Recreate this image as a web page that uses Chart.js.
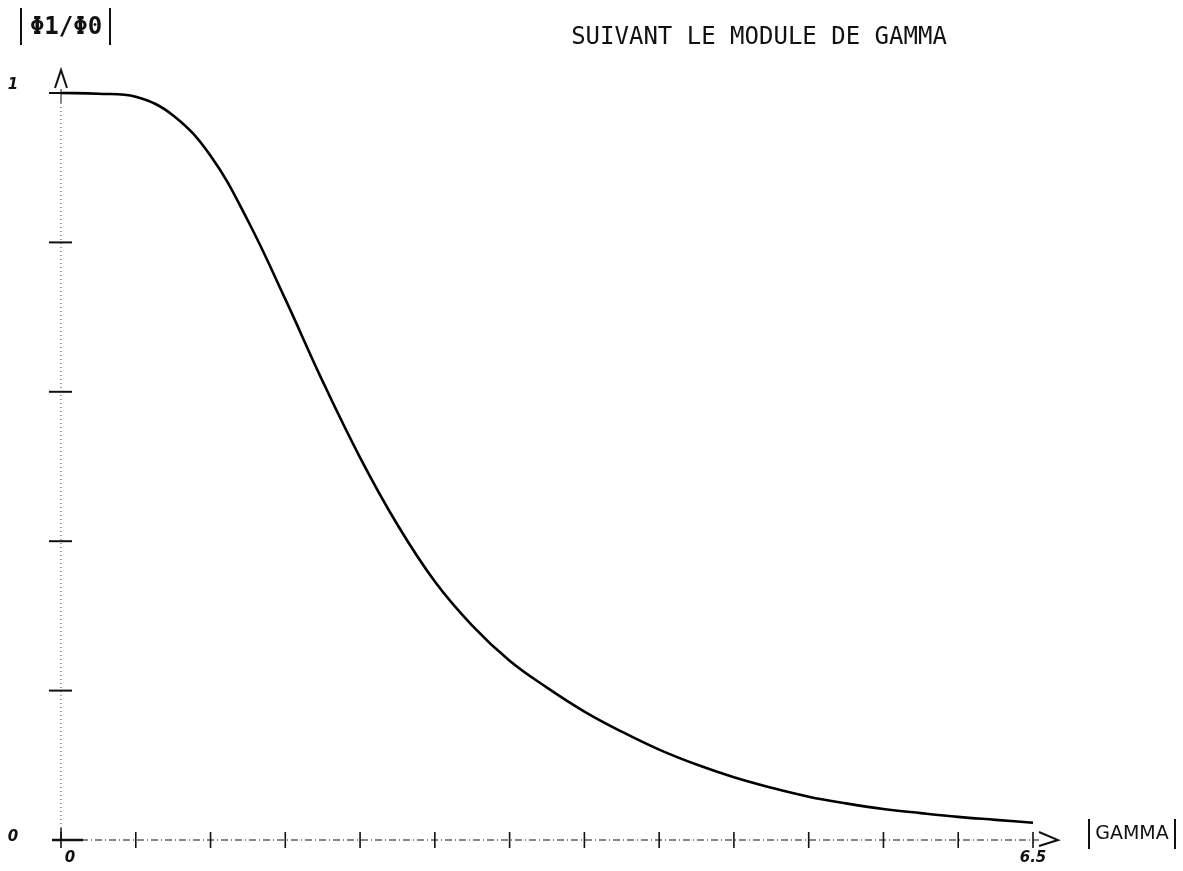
<!DOCTYPE html>
<html>
<head>
<meta charset="utf-8">
<script src="https://cdn.jsdelivr.net/npm/chart.js@4.4.1/dist/chart.umd.min.js"></script>
<style>
  html, body { margin: 0; padding: 0; background: #fff; }
  #wrap { width: 1183px; height: 871px; }
</style>
</head>
<body>
<div id="wrap"><canvas id="myChart"></canvas></div>
<script>
// |gamma| on x, |phi1/phi0| on y
var gamma = [0, 0.25, 0.5, 0.75, 1, 1.25, 1.5, 1.75, 2, 2.25, 2.5, 2.75, 3, 3.25, 3.5,
             3.75, 4, 4.25, 4.5, 4.75, 5, 5.25, 5.5, 5.75, 6, 6.25, 6.5];
var ratio = [1, 0.999, 0.995, 0.970, 0.916, 0.829, 0.724, 0.614, 0.512, 0.422, 0.346, 0.287,
             0.240, 0.204, 0.172, 0.145, 0.121, 0.101, 0.084, 0.070, 0.058, 0.049, 0.0415,
             0.036, 0.031, 0.027, 0.023];
var xTicks = [0, 0.5, 1, 1.5, 2, 2.5, 3, 3.5, 4, 4.5, 5, 5.5, 6, 6.5];
var yTicks = [0, 0.2, 0.4, 0.6, 0.8, 1];
var xTickLabels = ['0', '6.5'];
var xLabelAt = [0, 6.5];
var yTickLabels = ['0', '1'];
var yLabelAt = [0, 1];

var plotterAxes = {
  id: 'plotterAxes',
  beforeDatasetsDraw: function(chart) {
    var ctx = chart.ctx, xs = chart.scales.x, ys = chart.scales.y;
    var x0 = xs.getPixelForValue(0), x1 = xs.getPixelForValue(6.5);
    var y0 = ys.getPixelForValue(0), y1 = ys.getPixelForValue(1);
    ctx.save();
    ctx.strokeStyle = '#111';

    // y axis, dotted
    ctx.lineWidth = 1;
    ctx.setLineDash([]);
    ctx.beginPath(); ctx.moveTo(x0, y1 - 4); ctx.lineTo(x0, y1 + 10); ctx.stroke();
    ctx.strokeStyle = '#444';
    ctx.setLineDash([1, 3]);
    ctx.beginPath(); ctx.moveTo(x0, y1 + 10); ctx.lineTo(x0, y0 - 12); ctx.stroke();
    ctx.setLineDash([]);
    ctx.strokeStyle = '#111';
    ctx.lineWidth = 1.5;
    ctx.beginPath(); ctx.moveTo(x0, y0 - 12); ctx.lineTo(x0, y0); ctx.stroke();

    // x axis, dash-dot
    ctx.lineWidth = 1.2;
    ctx.setLineDash([7, 3, 1, 3]);
    ctx.beginPath(); ctx.moveTo(x0 + 20, y0); ctx.lineTo(x1 + 6, y0); ctx.stroke();
    ctx.setLineDash([]);
    ctx.lineWidth = 2.5;
    ctx.beginPath(); ctx.moveTo(x0 - 9, y0); ctx.lineTo(x0 + 22, y0); ctx.stroke();

    // x ticks (crosses)
    ctx.lineWidth = 1.6;
    xTicks.forEach(function(v) {
      var px = xs.getPixelForValue(v);
      ctx.beginPath(); ctx.moveTo(px, y0 - 8); ctx.lineTo(px, y0 + 8); ctx.stroke();
    });
    // y ticks
    ctx.lineWidth = 2;
    yTicks.forEach(function(v) {
      var py = ys.getPixelForValue(v);
      if (v === 0) return;
      ctx.beginPath(); ctx.moveTo(x0 - 12, py); ctx.lineTo(x0 + 11, py); ctx.stroke();
    });

    // arrows
    ctx.lineWidth = 2;
    ctx.beginPath();
    ctx.moveTo(x0 - 6, y1 - 5); ctx.lineTo(x0, y1 - 23); ctx.lineTo(x0 + 6, y1 - 5);
    ctx.stroke();
    ctx.beginPath();
    ctx.moveTo(x1 + 6, y0 - 8); ctx.lineTo(x1 + 25, y0); ctx.lineTo(x1 + 6, y0 + 6);
    ctx.stroke();

    // tick labels
    ctx.fillStyle = '#111';
    ctx.font = 'italic bold 15px "DejaVu Sans"';
    ctx.textAlign = 'center';
    ctx.textBaseline = 'middle';
    xTickLabels.forEach(function(t, i) {
      var px = xs.getPixelForValue(xLabelAt[i]);
      ctx.fillText(t, i === 0 ? px + 9 : px, y0 + 18);
    });
    yTickLabels.forEach(function(t, i) {
      var py = ys.getPixelForValue(yLabelAt[i]);
      ctx.fillText(t, 13, i === 0 ? py - 3 : py - 8);
    });

    // axis titles
    ctx.lineWidth = 2;
    ctx.beginPath(); ctx.moveTo(21, 8); ctx.lineTo(21, 45); ctx.stroke();
    ctx.beginPath(); ctx.moveTo(110, 8); ctx.lineTo(110, 45); ctx.stroke();
    ctx.font = 'bold 24px "DejaVu Sans Mono"';
    ctx.fillText('\u03A61/\u03A60', 66, 28);

    ctx.beginPath(); ctx.moveTo(1089, 819); ctx.lineTo(1089, 849); ctx.stroke();
    ctx.beginPath(); ctx.moveTo(1175, 819); ctx.lineTo(1175, 849); ctx.stroke();
    ctx.font = '19px "DejaVu Sans"';
    ctx.fillText('GAMMA', 1132, 834);

    ctx.font = '24px "DejaVu Sans Mono"';
    ctx.fillText('SUIVANT LE MODULE DE GAMMA', 759, 38);
    ctx.restore();
  }
};

var ctx = document.getElementById('myChart').getContext('2d');
var myChart = new Chart(ctx, {
  type: 'line',
  data: {
    datasets: [{
      label: '|phi1/phi0|',
      data: gamma.map(function(g, i) { return { x: g, y: ratio[i] }; }),
      borderColor: '#000',
      borderWidth: 2.6,
      pointRadius: 0,
      tension: 0.4,
      fill: false,
      clip: false
    }]
  },
  options: {
    responsive: true,
    maintainAspectRatio: false,
    animation: false,
    layout: { padding: { left: 61, right: 150, top: 93, bottom: 31 } },
    plugins: { legend: { display: false }, tooltip: { enabled: false } },
    scales: {
      x: { type: 'linear', min: 0, max: 6.5, display: false },
      y: { type: 'linear', min: 0, max: 1, display: false }
    }
  },
  plugins: [plotterAxes]
});
</script>
</body>
</html>
